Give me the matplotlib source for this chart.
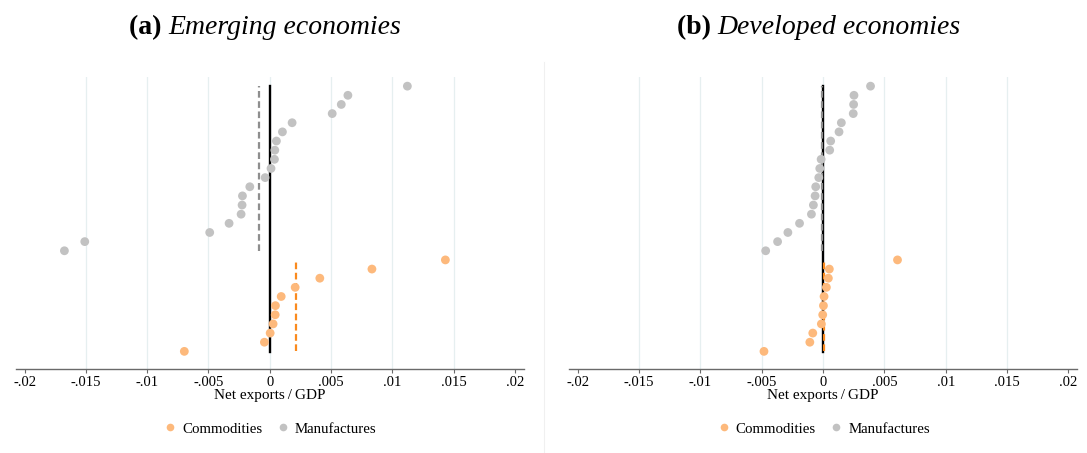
import numpy as np
import matplotlib.pyplot as plt
from matplotlib.lines import Line2D

# net exports / GDP by country group, sorted top to bottom within each group
emerging_manuf = [0.01122, 0.00637, 0.00583, 0.00509, 0.00182, 0.00103, 0.00054,
                  0.00041, 0.00038, 0.00010, -0.00038, -0.00163, -0.00223, -0.00226,
                  -0.00234, -0.00332, -0.00490, -0.01509, -0.01675]
emerging_comm = [0.01432, 0.00833, 0.00408, 0.00207, 0.00093, 0.00046, 0.00044,
                 0.00027, 0.00003, -0.00044, -0.00697]

developed_manuf = [0.00387, 0.00252, 0.00249, 0.00246, 0.00149, 0.00130, 0.00062,
                   0.00054, -0.00016, -0.00027, -0.00035, -0.00060, -0.00065,
                   -0.00079, -0.00095, -0.00192, -0.00287, -0.00371, -0.00468]
developed_comm = [0.00607, 0.00051, 0.00043, 0.00027, 0.00008, 0.00003, -0.00003,
                  -0.00014, -0.00084, -0.00108, -0.00482]

xticks = [-0.02, -0.015, -0.01, -0.005, 0, 0.005, 0.01, 0.015, 0.02]
xtick_labels = ["-.02", "-.015", "-.01", "-.005", "0", ".005", ".01", ".015", ".02"]

panels = [("(a)", "Emerging economies", emerging_manuf, emerging_comm),
          ("(b)", "Developed economies", developed_manuf, developed_comm)]

c_comm = "#FDB97C"
c_comm_line = "#FA8A1E"
c_manuf = "#C2C2C2"
c_manuf_line = "#8E8E8E"
c_grid = "#E6EFF0"

serif = ["Liberation Serif", "DejaVu Serif"]
plt.rcParams["font.family"] = serif

fig = plt.figure(figsize=(10.87, 4.53), dpi=100)
lefts = [0.0147, 0.5237]


def draw_panel(ax, manuf, comm):
    n = len(manuf) + len(comm)
    rows = np.arange(n, 0, -1)
    y_manuf = rows[:len(manuf)]
    y_comm = rows[len(manuf):]

    for t in xticks[1:-1]:
        ax.plot([t, t], [-0.93, 31], color=c_grid, lw=0.9, zorder=0)

    ax.plot([0, 0], [rows.min() - 0.05, rows.max() + 0.05], color="black", lw=1.7, zorder=2)
    ax.plot([np.mean(manuf)] * 2, [y_manuf.min(), y_manuf.max()], color=c_manuf_line,
            lw=1.6, dashes=(3.0, 1.6), zorder=2.5)
    ax.plot([np.mean(comm)] * 2, [y_comm.min(), y_comm.max()], color=c_comm_line,
            lw=1.6, dashes=(3.0, 1.6), zorder=2.5)

    ax.scatter(manuf, y_manuf, s=40, color=c_manuf, edgecolors="none", zorder=3)
    ax.scatter(comm, y_comm, s=40, color=c_comm, edgecolors="none", zorder=3)

    ax.set_xlim(-0.0207, 0.0207)
    ax.set_ylim(-0.93, 31)
    ax.set_xticks(xticks)
    ax.set_xticklabels(xtick_labels)
    ax.set_yticks([])
    for s in ["top", "left", "right"]:
        ax.spines[s].set_visible(False)
    ax.spines["bottom"].set_color("#6A6A6A")
    ax.spines["bottom"].set_linewidth(1.0)
    ax.tick_params(axis="x", length=3, width=0.8, color="#6A6A6A", labelsize=10.5, pad=2)
    ax.set_xlabel("Net exports\u2009/\u2009GDP", fontsize=11, labelpad=0)

    handles = [Line2D([], [], ls="none", marker="o", ms=5.5, color=c_comm, mec="none"),
               Line2D([], [], ls="none", marker="o", ms=5.5, color=c_manuf, mec="none")]
    ax.legend(handles, ["Commodities", "Manufactures"], ncol=2, frameon=False,
              loc="center", bbox_to_anchor=(0.5, -0.205), fontsize=10.7,
              handletextpad=0.3, columnspacing=0.9, handlelength=1.0)


for (tag, name, manuf, comm), left in zip(panels, lefts):
    ax = fig.add_axes([left, 0.1854, 0.467, 0.6446])
    draw_panel(ax, manuf, comm)

    # bold tag + italic name, centred together above the panel
    renderer = fig.canvas.get_renderer()
    t1 = fig.text(0, 0, tag + " ", fontsize=20, fontweight="bold", va="center")
    t2 = fig.text(0, 0, name, fontsize=20, fontstyle="italic", va="center")
    w1 = t1.get_window_extent(renderer).width / fig.bbox.width
    w2 = t2.get_window_extent(renderer).width / fig.bbox.width
    cx = left + 0.467 / 2 - 0.004
    x0 = cx - (w1 + w2) / 2
    t1.set_position((x0, 1 - 28 / 453))
    t2.set_position((x0 + w1, 1 - 28 / 453))

# thin divider between the two panels
fig.add_artist(Line2D([0.5005, 0.5005], [0, 1 - 62 / 453], color="#F0F0F0", lw=0.8))

fig.savefig("out.png", dpi=100, facecolor="white")
